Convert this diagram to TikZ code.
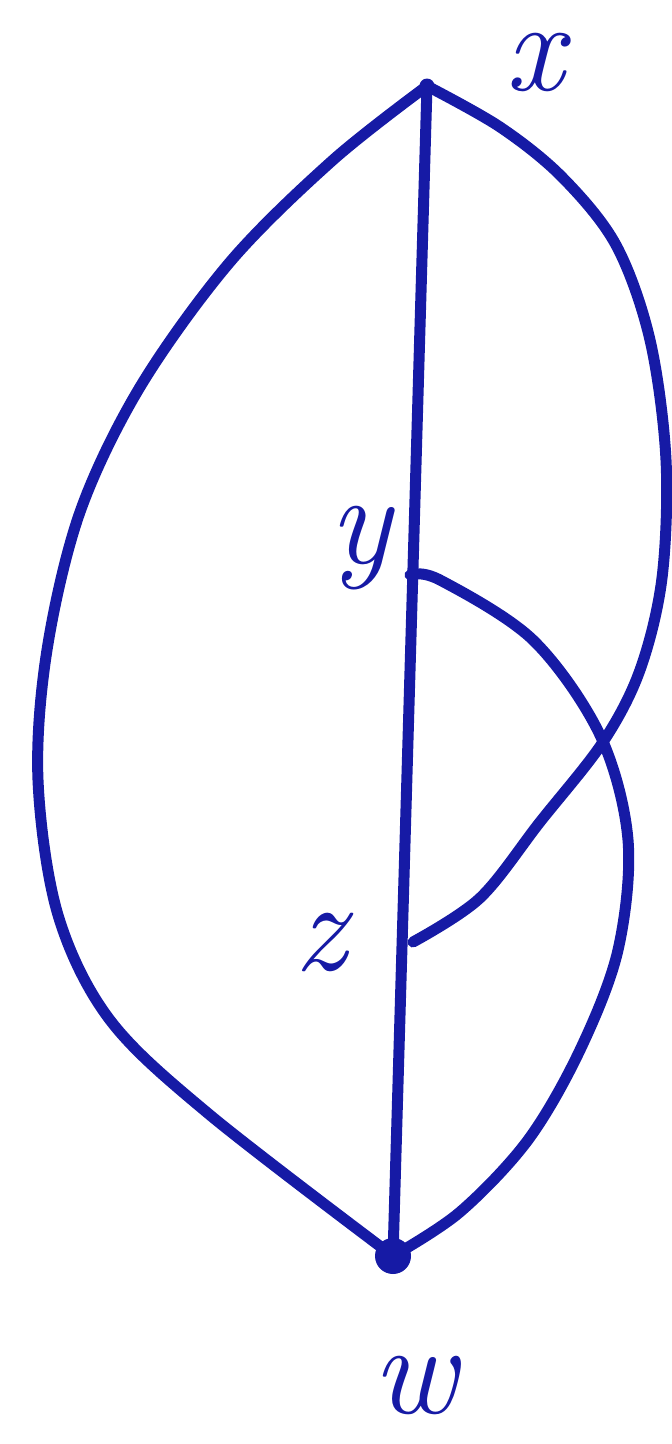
\documentclass[tikz,border=0pt]{standalone}
\begin{document}
\begin{tikzpicture}[x=1pt,y=-1pt,
  ink/.style={draw=inkblue,line width=11pt,line cap=round,line join=round},
  vtx/.style={circle,fill=inkblue,inner sep=0pt,minimum size=#1},
  lbl/.style={text=inkblue,inner sep=2pt,font=\fontsize{130}{130}\selectfont\itshape}]
\definecolor{inkblue}{RGB}{22,26,165}
\useasboundingbox (0,0) rectangle (672,1444);
\node[vtx=15pt] (x) at (427,86) {};
\node[vtx=2pt] (y) at (410,575) {};
\node[vtx=2pt] (z) at (413,942) {};
\node[vtx=36pt] (w) at (393,1256) {};
\node[lbl] (lx) at (535,62) {x};
\node[lbl] (ly) at (360,548) {y};
\node[lbl] (lz) at (320,942) {z};
\node[lbl] (lw) at (415,1385) {w};
% straight edge
\draw[ink] (x.center) -- (w.center);
% left curve
\draw[ink] plot[smooth,tension=0.55] coordinates {(x.center) (333,160) (230,262) (140,387) (80,512) (47,650) (38,780) (58,915) (110,1020) (210,1115) (w.center)};
% right curve x -> z
\draw[ink] plot[smooth,tension=0.55] coordinates {(x.center) (500,127) (562,177) (616,245) (650,340) (666,460) (662,578) (640,670) (603,742) (540,822) (480,898) (z.center)};
% y -> w curve
\draw[ink] plot[smooth,tension=0.55] coordinates {(y.center) (440,580) (533,640) (600,735) (628,840) (618,950) (580,1050) (528,1140) (460,1212) (w.center)};
\end{tikzpicture}
\end{document}
